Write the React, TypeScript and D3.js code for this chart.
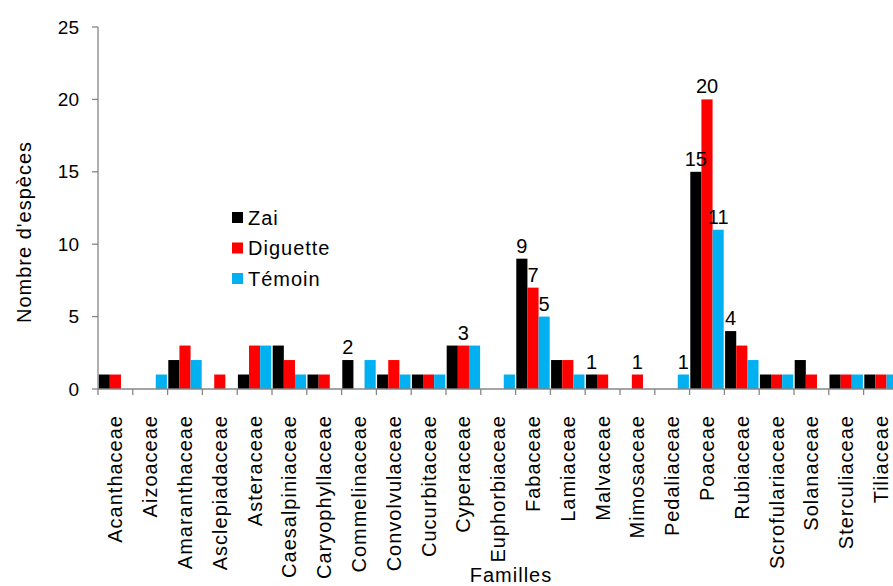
import * as d3 from "d3";

const categories = [
  "Acanthaceae", "Aizoaceae", "Amaranthaceae", "Asclepiadaceae", "Asteraceae",
  "Caesalpiniaceae", "Caryophyllaceae", "Commelinaceae", "Convolvulaceae",
  "Cucurbitaceae", "Cyperaceae", "Euphorbiaceae", "Fabaceae", "Lamiaceae",
  "Malvaceae", "Mimosaceae", "Pedaliaceae", "Poaceae", "Rubiaceae",
  "Scrofulariaceae", "Solanaceae", "Sterculiaceae", "Tiliaceae",
];
const seriesNames = ["Zai", "Diguette", "Témoin"];
const zai = [1, 0, 2, 0, 1, 3, 1, 2, 1, 1, 3, 0, 9, 2, 1, 0, 0, 15, 4, 1, 2, 1, 1];
const diguette = [1, 0, 3, 1, 3, 2, 1, 0, 2, 1, 3, 0, 7, 2, 1, 1, 0, 20, 3, 1, 1, 1, 1];
const temoin = [0, 1, 2, 0, 3, 1, 0, 2, 1, 1, 3, 1, 5, 1, 0, 0, 1, 11, 2, 1, 0, 1, 1];
const yTicks = [0, 5, 10, 15, 20, 25];
// [famille, série] of the bars that carry a value label
const labelled: [string, number][] = [
  ["Commelinaceae", 0], ["Cyperaceae", 1],
  ["Fabaceae", 0], ["Fabaceae", 1], ["Fabaceae", 2],
  ["Malvaceae", 0], ["Mimosaceae", 1], ["Pedaliaceae", 2],
  ["Poaceae", 0], ["Poaceae", 1], ["Poaceae", 2], ["Rubiaceae", 0],
];

const colors = ["#000000", "#ff0000", "#00b0f0"];
const font = "'Liberation Sans', Arial, sans-serif";
const axisColor = "#868686";

export default function App() {
  const width = 893;
  const height = 586;
  const left = 98;
  const step = 34.8;

  const values = [zai, diguette, temoin];

  const x = d3.scaleBand<string>()
    .domain(categories)
    .range([left, left + step * categories.length])
    .paddingInner(0.04)
    .paddingOuter(0.02);

  const xs = d3.scaleBand<number>()
    .domain([0, 1, 2])
    .range([0, x.bandwidth()]);

  const y = d3.scaleLinear().domain([0, 25]).range([389, 27]);

  const tickX = (i: number) => left + i * x.step();

  return (
    <svg width={width} height={height}
      style={{ position: "absolute", left: 0, top: 0, display: "block", background: "#fff" }}
      fontFamily={font}>
      {/* bars */}
      {categories.map((c, i) => (
        <g key={c} transform={`translate(${x(c)},0)`}>
          {values.map((s, k) => s[i] > 0 && (
            <rect key={k} x={xs(k)} y={y(s[i])} width={xs.bandwidth()}
              height={y(0) - y(s[i])} fill={colors[k]} />
          ))}
        </g>
      ))}

      {/* y axis */}
      <line x1={left} x2={left} y1={y(25)} y2={y(0)} stroke={axisColor} strokeWidth={1.3} />
      {yTicks.map(t => (
        <g key={t}>
          <line x1={left - 6} x2={left} y1={y(t)} y2={y(t)} stroke={axisColor} strokeWidth={1.3} />
          <text x={79} y={y(t)} dy="0.35em" textAnchor="end" fontSize={19} fill="#000">{t}</text>
        </g>
      ))}

      {/* x axis */}
      <line x1={left} x2={tickX(categories.length)} y1={y(0)} y2={y(0)} stroke={axisColor} strokeWidth={1.3} />
      {d3.range(categories.length + 1).map(i => (
        <line key={i} x1={tickX(i)} x2={tickX(i)} y1={y(0)} y2={y(0) + 6} stroke={axisColor} strokeWidth={1.3} />
      ))}
      {categories.map(c => {
        const cx = x(c)! + x.bandwidth() / 2;
        return (
          <text key={c} transform={`translate(${cx + 7},415) rotate(-90)`} textAnchor="end"
            fontSize={20} letterSpacing={1} fill="#000">{c}</text>
        );
      })}

      {/* value labels */}
      {labelled.map(([c, k]) => {
        const v = values[k][categories.indexOf(c)];
        return (
          <text key={c + k} x={x(c)! + xs(k)! + xs.bandwidth() / 2} y={y(v) - 6}
            textAnchor="middle" fontSize={20} fill="#000">{v}</text>
        );
      })}

      {/* axis titles */}
      <text transform="translate(31,232) rotate(-90)" textAnchor="middle" fontSize={20}
        letterSpacing={1} fill="#000">Nombre d'espèces</text>
      <text x={511} y={582} textAnchor="middle" fontSize={20} letterSpacing={1} fill="#000">Familles</text>

      {/* legend */}
      {seriesNames.map((n, k) => (
        <g key={n} transform={`translate(232,${212 + k * 30.5})`}>
          <rect x={0} y={0} width={11} height={11} fill={colors[k]} />
          <text x={16} y={12.5} fontSize={20} letterSpacing={1} fill="#000">{n}</text>
        </g>
      ))}
    </svg>
  );
}
